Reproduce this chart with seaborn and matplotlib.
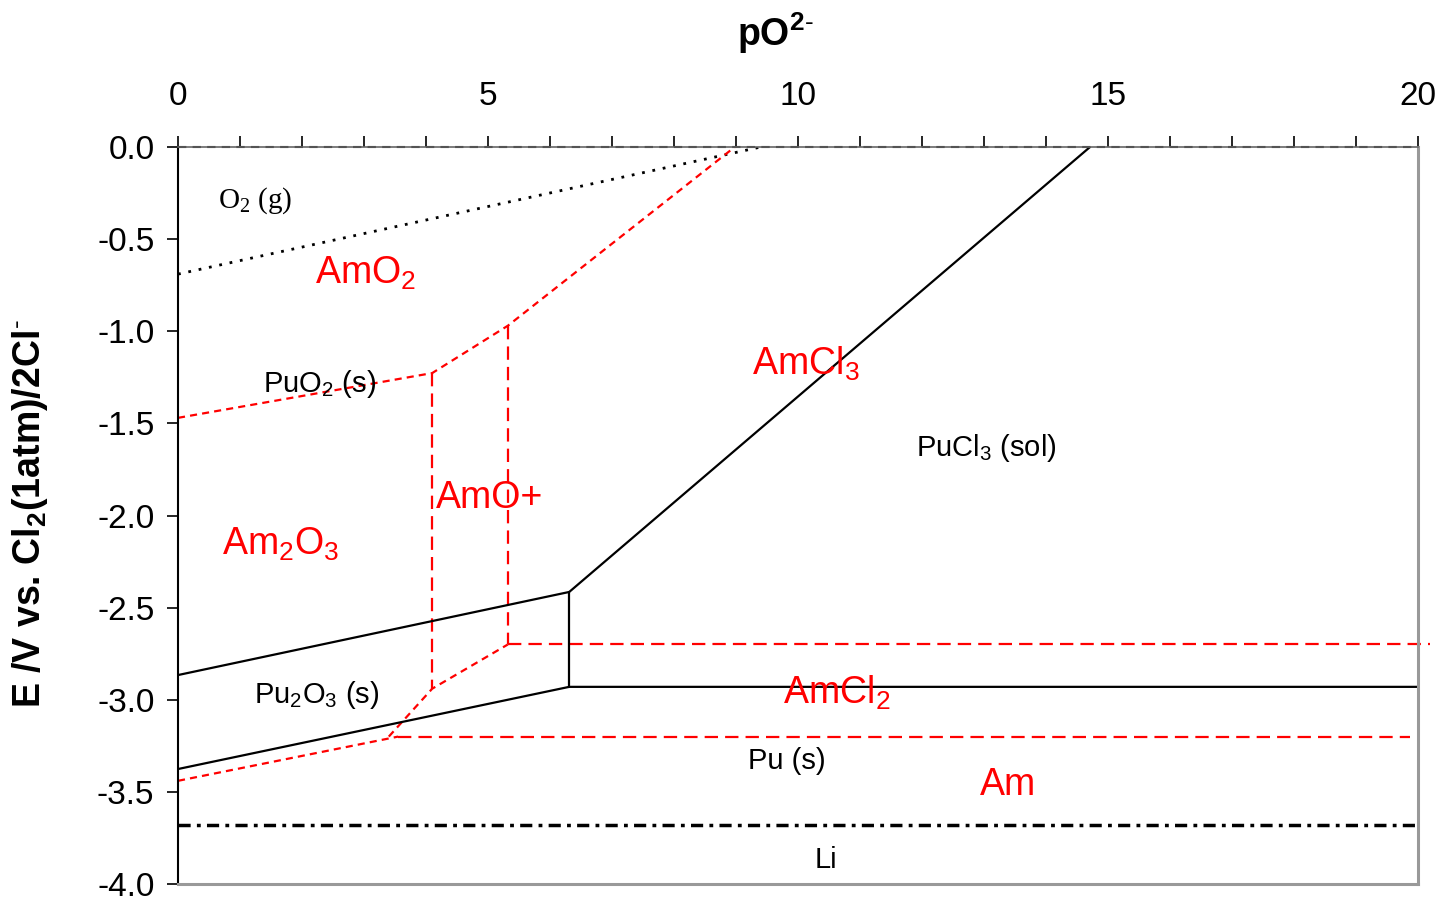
import matplotlib
matplotlib.use("Agg")
import matplotlib.pyplot as plt
import seaborn as sns
import pandas as pd
from matplotlib.ticker import MultipleLocator, FuncFormatter

# ---------------- data ----------------
o2_x = [0.0, 9.4]
o2_y = [-0.69, 0.0]

amo2_x = [0.0, 4.10, 5.32, 8.98]
amo2_y = [-1.47, -1.227, -0.97, 0.0]

amo_left_x = [4.10, 4.10]
amo_left_y = [-1.227, -2.94]
amo_right_x = [5.32, 5.32]
amo_right_y = [-0.97, -2.70]

am2o3_low_x = [0.0, 3.55]
am2o3_low_y = [-3.44, -3.20]
am_horiz_x = [3.55, 19.87]
am_horiz_y = [-3.20, -3.20]

amcl2_diag_x = [3.40, 4.10, 5.32]
amcl2_diag_y = [-3.20, -2.94, -2.70]
amcl2_horiz_x = [5.32, 20.2]
amcl2_horiz_y = [-2.70, -2.70]

pu_upper_x = [0.0, 6.31, 14.71]
pu_upper_y = [-2.866, -2.415, 0.0]
pu_lower_x = [0.0, 6.31, 20.0]
pu_lower_y = [-3.376, -2.93, -2.93]
pu_vert_x = [6.31, 6.31]
pu_vert_y = [-2.415, -2.93]

li_x = [0.0, 20.0]
li_y = [-3.68, -3.68]

top_x = [0.0, 20.0]
top_y = [0.0, 0.0]

red_labels = [r"$\mathregular{AmO_2}$", r"$\mathregular{AmCl_3}$", "AmO+",
              r"$\mathregular{Am_2O_3}$", r"$\mathregular{AmCl_2}$", "Am"]
red_lx = [3.02, 10.13, 5.02, 1.66, 10.63, 13.39]
red_ly = [-0.685, -1.175, -1.905, -2.155, -2.965, -3.465]

black_labels = [r"$\mathregular{PuO_2}$ (s)", r"$\mathregular{PuCl_3}$ (sol)",
                r"$\mathregular{Pu_2O_3}$ (s)", "Pu (s)", "Li"]
black_lx = [2.29, 13.03, 2.23, 9.82, 10.45]
black_ly = [-1.285, -1.635, -2.975, -3.335, -3.87]

o2_label = r"$\mathregular{O_2}$ (g)"
o2_lx, o2_ly = 1.24, -0.29

x_ticks_major = [0, 5, 10, 15, 20]
y_ticks = [0.0, -0.5, -1.0, -1.5, -2.0, -2.5, -3.0, -3.5, -4.0]

# ---------------- style ----------------
sns.set_style("ticks")
plt.rcParams["font.family"] = ["Liberation Sans", "DejaVu Sans"]
plt.rcParams["mathtext.fontset"] = "custom"
plt.rcParams["mathtext.rm"] = "Liberation Sans"
plt.rcParams["axes.unicode_minus"] = False
plt.rcParams["text.color"] = "black"
plt.rcParams["xtick.color"] = "black"
plt.rcParams["ytick.color"] = "black"
plt.rcParams["xtick.labelcolor"] = "black"
plt.rcParams["ytick.labelcolor"] = "black"

fig = plt.figure(figsize=(14.49, 8.99), dpi=100)
ax = fig.add_axes([178 / 1449, 1 - 884 / 899, 1240 / 1449, 737 / 899])


def line(xs, ys, color, lw, ls, clip=True):
    df = pd.DataFrame({"x": xs, "y": ys})
    sns.lineplot(data=df, x="x", y="y", sort=False, estimator=None, ax=ax,
                 color=color, lw=lw, linestyle=ls, clip_on=clip)


short_dash = (0, (3.2, 2.3))
long_dash = (0, (6.0, 3.2))
red = "#ff0000"

line(o2_x, o2_y, "black", 2.0, (0, (1.0, 2.8)))
line(amo2_x, amo2_y, red, 1.6, short_dash)
line(amo_left_x, amo_left_y, red, 1.6, long_dash)
line(amo_right_x, amo_right_y, red, 1.6, long_dash)
line(am2o3_low_x, am2o3_low_y, red, 1.6, short_dash)
line(am_horiz_x, am_horiz_y, red, 1.6, long_dash)
line(amcl2_diag_x, amcl2_diag_y, red, 1.6, short_dash)
line(amcl2_horiz_x, amcl2_horiz_y, red, 1.6, long_dash, clip=False)
line(pu_upper_x, pu_upper_y, "black", 1.6, "-")
line(pu_lower_x, pu_lower_y, "black", 1.6, "-")
line(pu_vert_x, pu_vert_y, "black", 1.6, "-")
line(li_x, li_y, "black", 2.5, (0, (3.5, 1.8, 1.1, 1.8)))
line(top_x, top_y, "black", 1.5, (0, (4, 3)), clip=False)

for t, x, y in zip(red_labels, red_lx, red_ly):
    ax.text(x, y, t, color=red, fontsize=27, ha="center", va="center")
for t, x, y in zip(black_labels, black_lx, black_ly):
    ax.text(x, y, t, color="black", fontsize=21, ha="center", va="center")
ax.text(o2_lx, o2_ly, o2_label, color="black", fontsize=21, ha="center",
        va="center", family=["Liberation Serif", "DejaVu Serif"])

ax.set_xlim(0, 20)
ax.set_ylim(-4, 0)
ax.set_xlabel("")
ax.set_ylabel("")

ax.xaxis.tick_top()
ax.xaxis.set_major_locator(MultipleLocator(1))
ax.xaxis.set_major_formatter(FuncFormatter(
    lambda v, p: f"{int(round(v))}" if int(round(v)) in x_ticks_major else ""))
ax.set_yticks(y_ticks)
ax.yaxis.set_major_formatter(FuncFormatter(lambda v, p: f"{v:.1f}"))
ax.tick_params(axis="x", which="both", direction="out", length=8, width=1.2,
               labelsize=24, pad=17, top=True, bottom=False,
               colors="black", labelcolor="black")
ax.tick_params(axis="y", which="both", direction="out", length=8, width=1.2,
               labelsize=24, pad=9, left=True, right=False,
               colors="black", labelcolor="black")

ax.spines["left"].set_color("black")
ax.spines["left"].set_linewidth(1.5)
ax.spines["top"].set_color("#666666")
ax.spines["top"].set_linewidth(1.2)
for side in ["right", "bottom"]:
    ax.spines[side].set_visible(True)
    ax.spines[side].set_color("#999999")
    ax.spines[side].set_linewidth(2.2)

fig.text(775 / 1449, 1 - 33 / 899, r"pO$\mathregular{^{2\text{-}}}$", fontsize=27,
         fontweight="bold", ha="center", va="center", color="black")
fig.text(30 / 1449, 1 - 514 / 899,
         r"E /V vs. $\mathregular{Cl_2}$(1atm)/2$\mathregular{Cl^{\text{-}}}$",
         fontsize=27, fontweight="bold", rotation=90, ha="center", va="center",
         color="black")

fig.savefig("out.png", dpi=100)
